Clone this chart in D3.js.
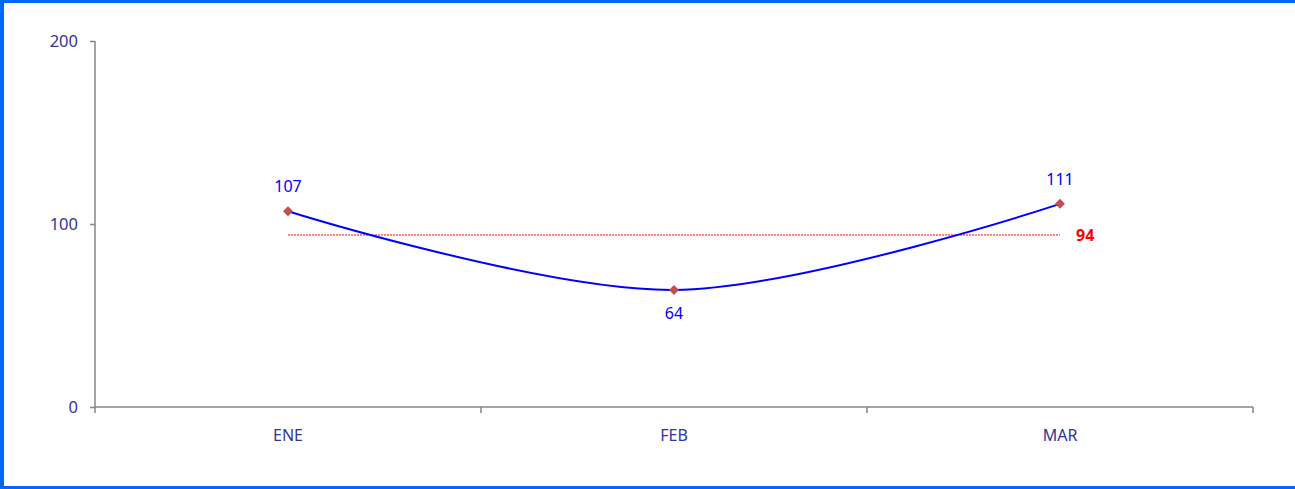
<!DOCTYPE html>
<html><head><meta charset="utf-8">
<script src="https://cdn.jsdelivr.net/npm/d3@7"></script>
<style>body{margin:0;background:#fff}svg{display:block}</style>
</head><body>
<svg id="c" width="1295" height="489"></svg>
<script>
const categories = ["ENE","FEB","MAR"];
const values = [107, 64, 111];
const averageValue = 94;
const yTicks = [0, 100, 200];

const svg = d3.select("#c");
const W = 1295, H = 489;
const font = "'Noto Sans', 'Open Sans', sans-serif";
svg.append("rect").attr("width",W).attr("height",H).attr("fill","#fff");
// border (top, left, bottom)
svg.append("rect").attr("x",0).attr("y",0).attr("width",W).attr("height",3).attr("fill","#0066FF");
svg.append("rect").attr("x",0).attr("y",0).attr("width",4).attr("height",H).attr("fill","#0066FF");
svg.append("rect").attr("x",0).attr("y",H-3).attr("width",W).attr("height",3).attr("fill","#0066FF");

const x = d3.scaleBand().domain(categories).range([95,1253]);
const y = d3.scaleLinear().domain([0,200]).range([407,41]);
const cx = d => x(d) + x.bandwidth()/2;

// y axis
const ya = svg.append("g").attr("transform","translate(95,0)")
  .call(d3.axisLeft(y).tickValues(yTicks).tickSize(5).tickPadding(12));
ya.select(".domain").attr("stroke","#868686").attr("stroke-width",1.5).attr("d","M0,"+y(200)+"V"+y(0));
ya.selectAll(".tick line").attr("stroke","#868686").attr("stroke-width",1.5);
ya.selectAll("text").attr("fill","#333399").attr("font-family",font).attr("font-size",16.5);

// x axis
const xa = svg.append("g").attr("transform","translate(0,407)")
  .call(d3.axisBottom(x).tickSize(0).tickPadding(23));
xa.select(".domain").attr("stroke","#868686").attr("stroke-width",1.5).attr("d","M95,0H1253");
xa.selectAll("text").attr("fill","#333399").attr("font-family",font).attr("font-size",16);
const bounds = [95].concat(categories.map(c => x(c) + x.bandwidth()));
svg.append("g").selectAll("line").data(bounds).join("line")
  .attr("x1",d=>d).attr("x2",d=>d).attr("y1",407).attr("y2",413)
  .attr("stroke","#868686").attr("stroke-width",1.5);

// average line
svg.append("line").attr("x1",cx(categories[0])).attr("x2",cx(categories[categories.length-1]))
  .attr("y1",y(averageValue)).attr("y2",y(averageValue))
  .attr("stroke","#FF0000").attr("stroke-width",1).attr("stroke-dasharray","2,1");
svg.append("text").attr("x",cx(categories[categories.length-1])+16).attr("y",y(averageValue)+6)
  .attr("fill","#FF0000").attr("font-family",font).attr("font-size",16).attr("font-weight","bold")
  .text(averageValue);

// line
const data = categories.map((c,i)=>({c, v:values[i]}));
svg.append("path").datum(data)
  .attr("d", d3.line().x(d=>cx(d.c)).y(d=>y(d.v)).curve(d3.curveCatmullRom.alpha(0.5)))
  .attr("fill","none").attr("stroke","#0000FF").attr("stroke-width",2);

svg.append("g").selectAll("path").data(data).join("path")
  .attr("d", d3.symbol().type(d3.symbolSquare).size(50))
  .attr("transform", d=>`translate(${cx(d.c)},${y(d.v)}) rotate(45)`)
  .attr("fill","#C0504D");

svg.append("g").selectAll("text").data(data).join("text")
  .attr("x", d=>cx(d.c))
  .attr("y", (d,i)=> (i===1 ? y(d.v)+29 : y(d.v)-19))
  .attr("text-anchor","middle")
  .attr("fill","#0000FF").attr("font-family",font).attr("font-size",16)
  .text(d=>d.v);
</script>
</body></html>
